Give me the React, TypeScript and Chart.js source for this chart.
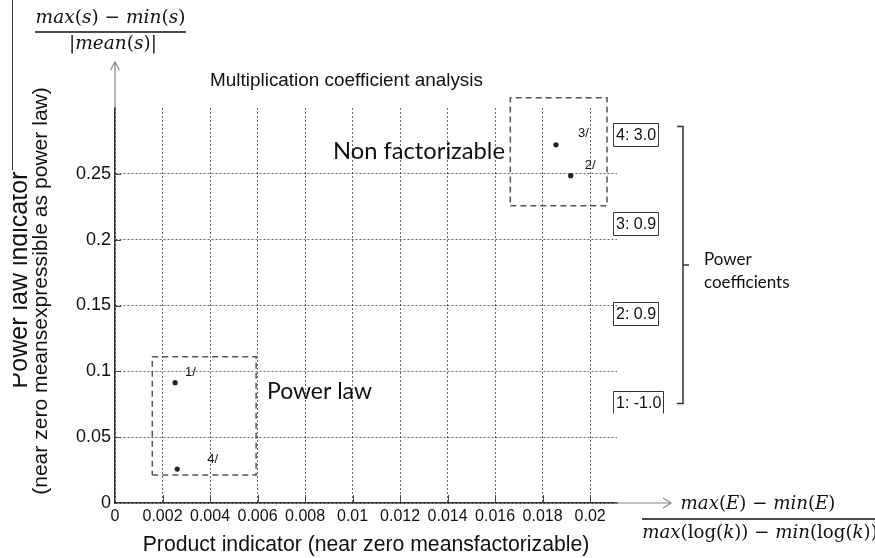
import React, { useEffect, useRef } from 'react';
import { Chart, registerables } from 'chart.js';

Chart.register(...registerables);

// ---- data ----
const pointLabels = ['1/', '2/', '3/', '4/'];
const productIndicator = [0.00253, 0.01918, 0.01856, 0.00262];
const powerLawIndicator = [0.0914, 0.2486, 0.272, 0.0258];

const xTickValues = [0, 0.002, 0.004, 0.006, 0.008, 0.01, 0.012, 0.014, 0.016, 0.018, 0.02];
const xTickLabels = ['0', '0.002', '0.004', '0.006', '0.008', '0.01', '0.012', '0.014', '0.016', '0.018', '0.02'];
const yTickValues = [0, 0.05, 0.1, 0.15, 0.2, 0.25];
const yTickLabels = ['0', '0.05', '0.1', '0.15', '0.2', '0.25'];

const powerLawBoxX = [0.00157, 0.00594];
const powerLawBoxY = [0.0213, 0.1111];
const nonFactBoxX = [0.01664, 0.02071];
const nonFactBoxY = [0.2258, 0.3078];

const coefficientLabels = ['4: 3.0', '3: 0.9', '2: 0.9', '1: -1.0'];

const titleText = 'Multiplication coefficient analysis';
const xTitle = 'Product indicator (near zero meansfactorizable)';
const yTitle1 = 'Power law indicator';
const yTitle2 = '(near zero meansexpressible as power law)';

// ---- helpers ----
const SANS = '"Liberation Sans", Arial, sans-serif';
const LATO = 'Lato, "Open Sans", sans-serif';
const MATH = '"DejaVu Serif", serif';

type Seg = [string, boolean];

function rectPath(xr: number[], yr: number[]) {
  return [
    { x: xr[0], y: yr[0] },
    { x: xr[1], y: yr[0] },
    { x: xr[1], y: yr[1] },
    { x: xr[0], y: yr[1] },
    { x: xr[0], y: yr[0] },
  ];
}

function fitSize(ctx: CanvasRenderingContext2D, text: string, family: string, style: string, target: number) {
  ctx.font = `${style} 20px ${family}`;
  const w = ctx.measureText(text).width;
  return (20 * target) / w;
}

function segWidth(ctx: CanvasRenderingContext2D, segs: Seg[], size: number) {
  let w = 0;
  for (const [t, it] of segs) {
    ctx.font = `${it ? 'italic ' : ''}${size}px ${MATH}`;
    w += ctx.measureText(t).width;
  }
  return w;
}

function drawSegs(ctx: CanvasRenderingContext2D, segs: Seg[], cx: number, baseline: number, size: number) {
  const total = segWidth(ctx, segs, size);
  let x = cx - total / 2;
  ctx.textAlign = 'left';
  ctx.textBaseline = 'alphabetic';
  for (const [t, it] of segs) {
    ctx.font = `${it ? 'italic ' : ''}${size}px ${MATH}`;
    ctx.fillText(t, x, baseline);
    x += ctx.measureText(t).width;
  }
}

const topNum: Seg[] = [['max', true], ['(', false], ['s', true], [')', false], [' \u2212 ', false], ['min', true], ['(', false], ['s', true], [')', false]];
const topDen: Seg[] = [['|', false], ['mean', true], ['(', false], ['s', true], [')', false], ['|', false]];
const botNum: Seg[] = [['max', true], ['(', false], ['E', true], [')', false], [' \u2212 ', false], ['min', true], ['(', false], ['E', true], [')', false]];
const botDen: Seg[] = [['max', true], ['(log(', false], ['k', true], ['))', false], [' \u2212 ', false], ['min', true], ['(log(', false], ['k', true], ['))', false]];

const labelOffsets = [[10, -10], [14, -10], [22, -11], [30, -10]];

const annotations = {
  id: 'annotations',
  afterDraw(chart: any) {
    const ctx: CanvasRenderingContext2D = chart.ctx;
    const xs = chart.scales.x;
    const ys = chart.scales.y;
    const area = chart.chartArea;
    ctx.save();
    ctx.fillStyle = '#111';
    ctx.strokeStyle = '#333';

    // inward tick marks
    ctx.lineWidth = 1;
    ctx.strokeStyle = '#444';
    ctx.beginPath();
    for (const v of xTickValues) {
      if (v === 0) continue;
      const px = Math.round(xs.getPixelForValue(v)) + 0.5;
      ctx.moveTo(px, area.bottom);
      ctx.lineTo(px, area.bottom - 8);
    }
    for (const v of yTickValues) {
      if (v === 0) continue;
      const py = Math.round(ys.getPixelForValue(v)) + 0.5;
      ctx.moveTo(area.left, py);
      ctx.lineTo(area.left + 6, py);
    }
    ctx.stroke();

    // left frame line
    ctx.strokeStyle = '#333';
    ctx.beginPath();
    ctx.moveTo(12.5, 0);
    ctx.lineTo(12.5, 170);
    ctx.stroke();

    // title
    const ts = fitSize(ctx, titleText, SANS, '', 273);
    ctx.font = `${ts}px ${SANS}`;
    ctx.textAlign = 'center';
    ctx.textBaseline = 'alphabetic';
    ctx.fillText(titleText, 346.5, 86);

    // x title
    const xts = fitSize(ctx, xTitle, SANS, '', 447);
    ctx.font = `${xts}px ${SANS}`;
    ctx.fillText(xTitle, (area.left + area.right) / 2, 551);

    // y titles
    const y2s = fitSize(ctx, yTitle2, SANS, '', 408);
    ctx.save();
    ctx.translate(47, 291);
    ctx.rotate(-Math.PI / 2);
    ctx.font = `${y2s}px ${SANS}`;
    ctx.textAlign = 'center';
    ctx.fillText(yTitle2, 0, 0);
    ctx.restore();

    ctx.save();
    ctx.beginPath();
    ctx.rect(13, 0, 60, 558);
    ctx.clip();
    ctx.translate(27, 280);
    ctx.rotate(-Math.PI / 2);
    ctx.font = `25px ${SANS}`;
    ctx.textAlign = 'center';
    ctx.fillText(yTitle1, 0, 0);
    ctx.restore();

    // axis arrows
    ctx.strokeStyle = '#888';
    ctx.lineWidth = 1.2;
    const ax = area.left;
    ctx.beginPath();
    ctx.moveTo(ax, area.top);
    ctx.lineTo(ax, 62);
    ctx.moveTo(ax - 4.5, 70);
    ctx.lineTo(ax, 62);
    ctx.lineTo(ax + 4.5, 70);
    ctx.stroke();
    const ay = area.bottom;
    ctx.beginPath();
    ctx.moveTo(area.right - 2, ay);
    ctx.lineTo(671, ay);
    ctx.moveTo(663, ay - 5);
    ctx.lineTo(671, ay);
    ctx.lineTo(663, ay + 5);
    ctx.stroke();

    // formulas
    ctx.fillStyle = '#111';
    const ftop = (19 * 150) / segWidth(ctx, topNum, 19);
    drawSegs(ctx, topNum, 110.5, 23, ftop);
    drawSegs(ctx, topDen, 113, 49, ftop);
    ctx.strokeStyle = '#111';
    ctx.lineWidth = 1.3;
    ctx.beginPath();
    ctx.moveTo(35, 32);
    ctx.lineTo(186, 32);
    ctx.stroke();

    const fbot = (19 * 155) / segWidth(ctx, botNum, 19);
    drawSegs(ctx, botNum, 758, 509, fbot);
    drawSegs(ctx, botDen, 760, 538, fbot);
    ctx.beginPath();
    ctx.moveTo(642, 519);
    ctx.lineTo(875, 519);
    ctx.stroke();

    // region labels
    ctx.fillStyle = '#111';
    const nfs = fitSize(ctx, 'Non factorizable', LATO, '', 172);
    ctx.font = `${nfs}px ${LATO}`;
    ctx.textAlign = 'left';
    ctx.textBaseline = 'middle';
    ctx.fillText('Non factorizable', 333, 151);
    const pls = fitSize(ctx, 'Power law', LATO, '', 105);
    ctx.font = `${pls}px ${LATO}`;
    ctx.fillText('Power law', 267, 392);

    // point labels
    ctx.font = `13px ${SANS}`;
    ctx.textAlign = 'left';
    ctx.textBaseline = 'middle';
    for (let i = 0; i < pointLabels.length; i++) {
      const px = xs.getPixelForValue(productIndicator[i]);
      const py = ys.getPixelForValue(powerLawIndicator[i]);
      ctx.fillText(pointLabels[i], px + labelOffsets[i][0], py + labelOffsets[i][1]);
    }

    // coefficient boxes
    ctx.font = `16px ${SANS}`;
    ctx.strokeStyle = '#333';
    ctx.lineWidth = 1;
    for (let i = 0; i < coefficientLabels.length; i++) {
      const t = coefficientLabels[i];
      const top = 123.5 + Math.round(i * 89.3);
      const w = Math.round(ctx.measureText(t).width + 5);
      const left = 613.5;
      ctx.beginPath();
      if (i === coefficientLabels.length - 1) {
        ctx.moveTo(left, top + 22);
        ctx.lineTo(left, top);
        ctx.lineTo(left + w, top);
        ctx.lineTo(left + w, top + 22);
      } else {
        ctx.rect(left, top, w, 23);
      }
      ctx.stroke();
      ctx.textAlign = 'left';
      ctx.textBaseline = 'middle';
      ctx.fillText(t, left + 2.5, top + 12);
    }

    // bracket
    ctx.lineWidth = 1.5;
    ctx.beginPath();
    ctx.moveTo(677, 126.5);
    ctx.lineTo(683, 126.5);
    ctx.lineTo(683, 403.5);
    ctx.lineTo(677, 403.5);
    ctx.moveTo(683, 265);
    ctx.lineTo(689, 265);
    ctx.stroke();

    ctx.font = `17px ${LATO}`;
    ctx.textAlign = 'left';
    ctx.textBaseline = 'alphabetic';
    ctx.fillText('Power', 704, 265);
    ctx.fillText('coefficients', 704, 288);

    ctx.restore();
  },
};

export default function App() {
  const ref = useRef<HTMLCanvasElement>(null);
  useEffect(() => {
    if (!ref.current) return;
    const boxStyle = {
      borderColor: '#555',
      borderWidth: 1.5,
      borderDash: [6, 4],
      pointRadius: 0,
      showLine: true,
      fill: false,
      clip: false as any,
      tension: 0,
    };
    const chart = new Chart(ref.current, {
      type: 'scatter',
      data: {
        datasets: [
          {
            label: 'points',
            data: productIndicator.map((x, i) => ({ x, y: powerLawIndicator[i] })),
            backgroundColor: '#222',
            borderWidth: 0,
            pointRadius: 2.6,
          },
          { label: 'powerLawBox', data: rectPath(powerLawBoxX, powerLawBoxY), ...boxStyle },
          { label: 'nonFactBox', data: rectPath(nonFactBoxX, nonFactBoxY), ...boxStyle },
        ],
      },
      options: {
        animation: false,
        responsive: false,
        maintainAspectRatio: false,
        devicePixelRatio: 1,
        layout: { padding: { left: 0, top: 108, right: 258, bottom: 0 } },
        plugins: { legend: { display: false }, tooltip: { enabled: false }, title: { display: false } },
        scales: {
          x: {
            type: 'linear',
            min: 0,
            max: 0.02113,
            afterBuildTicks: (s: any) => { s.ticks = xTickValues.map((v) => ({ value: v })); },
            afterFit: (s: any) => { s.height = 55; },
            ticks: {
              callback: (v: any) => { const i = xTickValues.indexOf(v); return i >= 0 ? xTickLabels[i] : ''; },
              font: { family: SANS, size: 16 },
              color: '#111',
              padding: 4,
              maxRotation: 0,
              autoSkip: false,
            },
            grid: { color: 'rgba(0,0,0,0.6)', lineWidth: 1, drawTicks: false, borderDash: [2, 2] } as any,
            border: { display: true, color: '#333', width: 1.5, dash: [2, 2] } as any,
          },
          y: {
            type: 'linear',
            min: 0,
            max: 0.3,
            afterBuildTicks: (s: any) => { s.ticks = yTickValues.map((v) => ({ value: v })); },
            afterFit: (s: any) => { s.width = 115; },
            ticks: {
              callback: (v: any) => { const i = yTickValues.indexOf(v); return i >= 0 ? yTickLabels[i] : ''; },
              font: { family: SANS, size: 18 },
              color: '#111',
              padding: 4,
              autoSkip: false,
            },
            grid: { color: 'rgba(0,0,0,0.6)', lineWidth: 1, drawTicks: false, borderDash: [2, 2] } as any,
            border: { display: true, color: '#333', width: 1.5, dash: [2, 2] } as any,
          },
        },
      },
      plugins: [annotations],
    });
    return () => chart.destroy();
  }, []);
  return (
    <div style={{ position: 'fixed', left: 0, top: 0, width: 875, height: 558, background: '#fff' }}>
      <canvas ref={ref} width={875} height={558} style={{ display: 'block', width: 875, height: 558 }} />
    </div>
  );
}
